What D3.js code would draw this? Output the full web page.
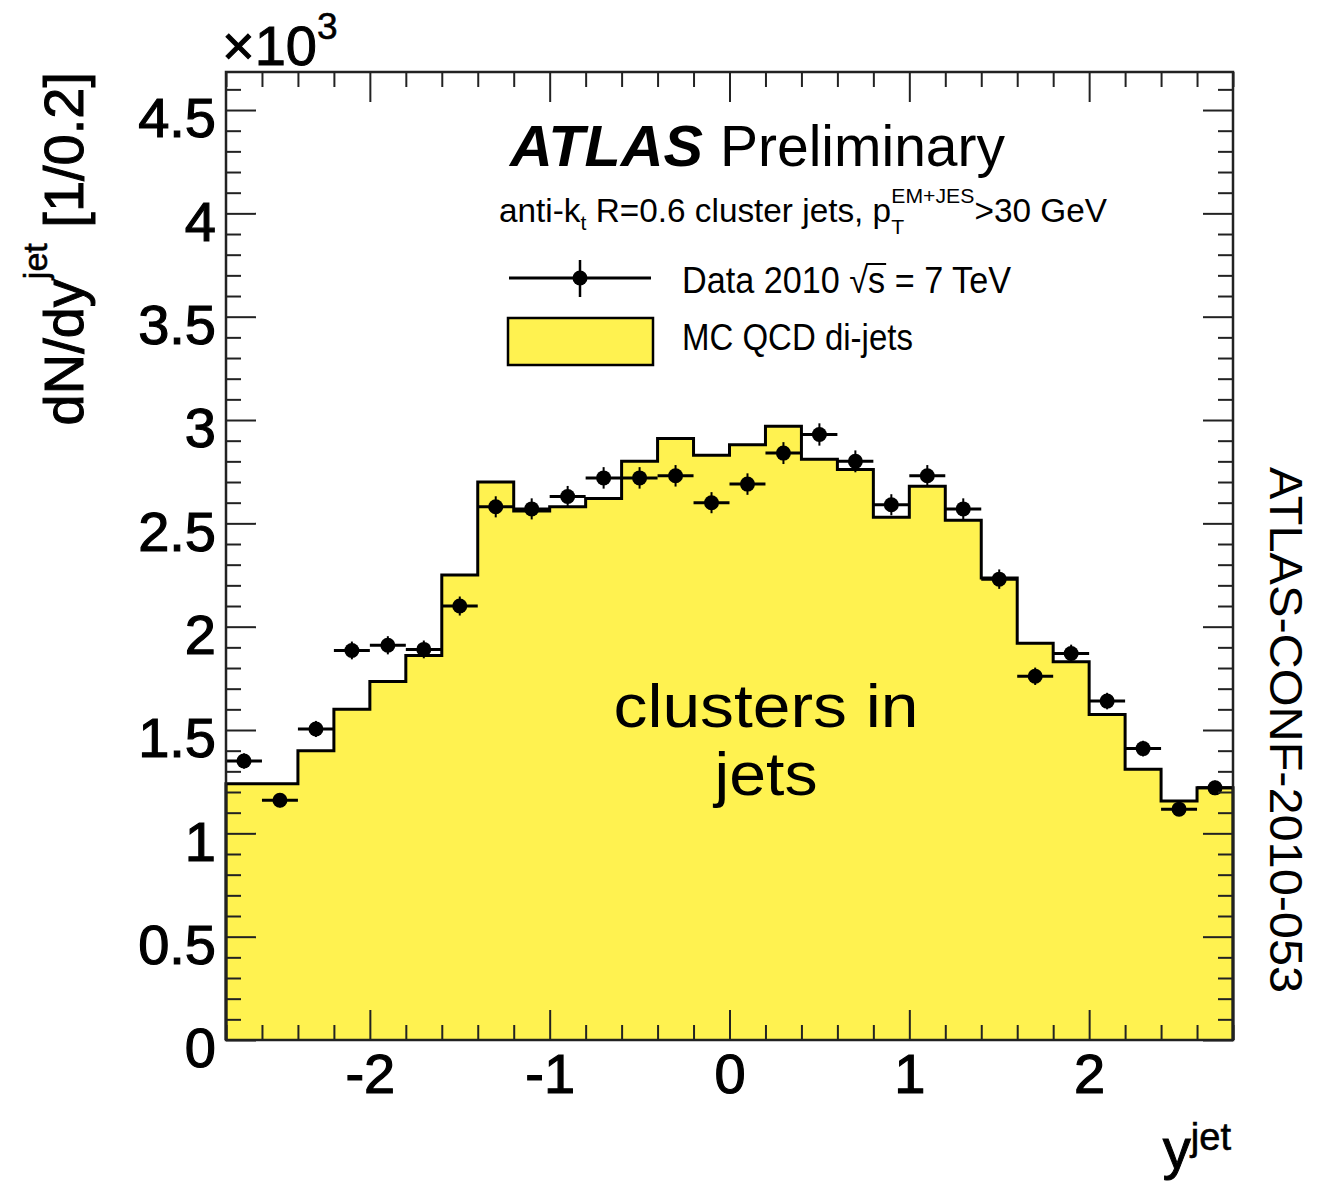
<!DOCTYPE html>
<html><head><meta charset="utf-8">
<script src="https://cdn.jsdelivr.net/npm/d3@7"></script>
<style>html,body{margin:0;padding:0;background:#fff;} svg{display:block;} text{white-space:pre;}</style>
</head><body>
<svg id="c" width="1329" height="1189"></svg>
<script>
// ---------------- data ----------------
const binCenters = [-2.7,-2.5,-2.3,-2.1,-1.9,-1.7,-1.5,-1.3,-1.1,-0.9,-0.7,-0.5,-0.3,-0.1,
                     0.1, 0.3, 0.5, 0.7, 0.9, 1.1, 1.3, 1.5, 1.7, 1.9, 2.1, 2.3, 2.5, 2.7];
const binWidth = 0.2;
const mcValues = [1.24,1.24,1.40,1.60,1.735,1.86,2.25,2.70,2.56,2.58,2.62,2.80,2.91,2.83,
                  2.88,2.97,2.81,2.76,2.53,2.68,2.515,2.235,1.92,1.83,1.575,1.31,1.157,1.22];
const dataValues = [1.35,1.16,1.505,1.885,1.91,1.89,2.10,2.58,2.57,2.63,2.72,2.72,2.73,2.60,
                    2.69,2.84,2.93,2.80,2.59,2.73,2.57,2.23,1.76,1.87,1.64,1.41,1.117,1.22];
const dataErrors = [0.037,0.034,0.039,0.043,0.044,0.043,0.046,0.051,0.051,0.051,0.052,0.052,0.052,0.051,
                    0.052,0.053,0.054,0.053,0.051,0.052,0.051,0.047,0.042,0.043,0.040,0.038,0.033,0.035];
const xTickValues = [-2,-1,0,1,2];
const xTickLabels = ["-2","-1","0","1","2"];
const yTickValues = [0,0.5,1,1.5,2,2.5,3,3.5,4,4.5];
const yTickLabels = ["0","0.5","1","1.5","2","2.5","3","3.5","4","4.5"];

// ---------------- layout ----------------
const FONT = "'Liberation Sans', Arial, Helvetica, sans-serif";
const L = 226, R = 1233, T = 72, B = 1040;
const yellow = "#fff250";
const svg = d3.select("#c").style("font-family", FONT);

const x = d3.scaleLinear().domain([-2.8, 2.8]).range([L, R]);
const y = d3.scaleLinear().domain([0, 4.684]).range([B, T]);

// MC histogram (step)
const pts = [[x(-2.8), y(0)]];
binCenters.forEach((c, i) => {
  pts.push([x(c - binWidth/2), y(mcValues[i])]);
  pts.push([x(c + binWidth/2), y(mcValues[i])]);
});
pts.push([x(2.8), y(0)]);
const line = d3.line();
svg.append("path").attr("d", line(pts) + "Z").attr("fill", yellow).attr("stroke", "none");
svg.append("path").attr("d", line(pts)).attr("fill", "none").attr("stroke", "#000")
   .attr("stroke-width", 3).attr("stroke-linejoin", "miter");

// Data points
const dg = svg.append("g");
binCenters.forEach((c, i) => {
  const v = dataValues[i], e = dataErrors[i];
  dg.append("line").attr("x1", x(c - binWidth/2)).attr("x2", x(c + binWidth/2))
    .attr("y1", y(v)).attr("y2", y(v)).attr("stroke", "#000").attr("stroke-width", 3);
  dg.append("line").attr("x1", x(c)).attr("x2", x(c))
    .attr("y1", y(v - e)).attr("y2", y(v + e)).attr("stroke", "#000").attr("stroke-width", 2);
  dg.append("circle").attr("cx", x(c)).attr("cy", y(v)).attr("r", 7.5).attr("fill", "#000");
});

// Axes with inward ticks
const xMinor = d3.range(-2.8, 2.81, 0.2).map(v => +v.toFixed(2)).filter(v => !xTickValues.includes(Math.round(v*100)/100));
const yMinor = d3.range(0, 4.69, 0.1).map(v => +v.toFixed(2)).filter(v => Math.abs(v*2 - Math.round(v*2)) > 1e-6);
function styleAxis(g) {
  g.select(".domain").remove();
  g.selectAll(".tick line").attr("stroke", "#222").attr("stroke-width", 2);
}
// bottom
svg.append("g").attr("transform", `translate(0,${B})`)
  .call(d3.axisBottom(x).tickValues(xMinor).tickSize(-15).tickFormat("")).call(styleAxis);
const xb = svg.append("g").attr("transform", `translate(0,${B})`)
  .call(d3.axisBottom(x).tickValues(xTickValues).tickSize(-30).tickPadding(13)
        .tickFormat((d, i) => xTickLabels[i])).call(styleAxis);
// top
svg.append("g").attr("transform", `translate(0,${T})`)
  .call(d3.axisTop(x).tickValues(xMinor).tickSize(-15).tickFormat("")).call(styleAxis);
svg.append("g").attr("transform", `translate(0,${T})`)
  .call(d3.axisTop(x).tickValues(xTickValues).tickSize(-30).tickFormat("")).call(styleAxis);
// left
svg.append("g").attr("transform", `translate(${L},0)`)
  .call(d3.axisLeft(y).tickValues(yMinor).tickSize(-15).tickFormat("")).call(styleAxis);
const yl = svg.append("g").attr("transform", `translate(${L},0)`)
  .call(d3.axisLeft(y).tickValues(yTickValues).tickSize(-30).tickPadding(10)
        .tickFormat((d, i) => yTickLabels[i])).call(styleAxis);
// right
svg.append("g").attr("transform", `translate(${R},0)`)
  .call(d3.axisRight(y).tickValues(yMinor).tickSize(-15).tickFormat("")).call(styleAxis);
svg.append("g").attr("transform", `translate(${R},0)`)
  .call(d3.axisRight(y).tickValues(yTickValues).tickSize(-30).tickFormat("")).call(styleAxis);

[xb, yl].forEach(g => g.selectAll(".tick text")
  .attr("font-family", FONT).attr("font-size", 56).attr("fill", "#000")
  .attr("stroke", "#000").attr("stroke-width", 1.2));
yl.selectAll(".tick text").attr("dy", "0.48em");

// frame
svg.append("rect").attr("x", L).attr("y", T).attr("width", R - L).attr("height", B - T)
  .attr("fill", "none").attr("stroke", "#222").attr("stroke-width", 2.5);

// ---------------- rich text helper ----------------
function rich(parent, segs, opts) {
  const g = parent.append("g");
  const inner = g.append("g");
  let cx = 0, pending = 0;
  const placed = [];
  segs.forEach(s => {
    const t = inner.append("text").attr("x", cx).attr("y", -(s.rise || 0))
      .attr("xml:space", "preserve")
      .attr("font-size", s.size).attr("font-weight", s.weight || "normal")
      .attr("font-style", s.style || "normal").attr("fill", "#000").text(s.t);
    if (s.stroke) t.attr("stroke", "#000").attr("stroke-width", s.stroke);
    const w = t.node().getComputedTextLength();
    placed.push({x: cx, w, s});
    if (s.hold) { pending = w; }
    else { cx += Math.max(w, pending); pending = 0; }
  });
  const W = cx;
  const sx = opts.width ? opts.width / W : 1;
  const x0 = opts.anchor === "end" ? -W * sx : (opts.anchor === "middle" ? -W * sx / 2 : 0);
  inner.attr("transform", `translate(${x0},0) scale(${sx},1)`);
  g.attr("transform", opts.transform);
  return {g: inner, placed, W};
}

// y axis title
rich(svg, [
  {t: "dN/dy", size: 56, stroke: 1},
  {t: "jet", size: 34, rise: 36, stroke: 0.6},
  {t: " [1/0.2]", size: 56, stroke: 1}
], {anchor: "end", transform: `translate(83,${T}) rotate(-90)`});

// x10^3
rich(svg, [
  {t: "\u00d710", size: 56, stroke: 1},
  {t: "3", size: 37, rise: 26, stroke: 0.6}
], {anchor: "start", transform: `translate(222,65)`});

// x axis title
rich(svg, [
  {t: "y", size: 56, stroke: 1},
  {t: "jet", size: 38, rise: 18, stroke: 0.6}
], {anchor: "end", transform: `translate(1231,1168)`});

// ATLAS Preliminary
svg.append("text").attr("x", 510).attr("y", 166).attr("font-size", 57).attr("font-weight", "bold")
  .attr("font-style", "italic").attr("textLength", 193).attr("lengthAdjust", "spacingAndGlyphs").text("ATLAS");
svg.append("text").attr("x", 720).attr("y", 166).attr("font-size", 57)
  .attr("textLength", 285).attr("lengthAdjust", "spacingAndGlyphs").text("Preliminary");

// subtitle
rich(svg, [
  {t: "anti-k", size: 33},
  {t: "t", size: 21, rise: -8},
  {t: " R=0.6 cluster jets, p", size: 33},
  {t: "T", size: 21, rise: -12, hold: true},
  {t: "EM+JES", size: 21, rise: 19},
  {t: ">30 GeV", size: 33}
], {anchor: "start", width: 608, transform: `translate(499,222)`});

// legend
const lg = svg.append("g");
lg.append("line").attr("x1", 509).attr("x2", 651).attr("y1", 278).attr("y2", 278)
  .attr("stroke", "#000").attr("stroke-width", 3);
lg.append("line").attr("x1", 580).attr("x2", 580).attr("y1", 260).attr("y2", 297)
  .attr("stroke", "#000").attr("stroke-width", 2.5);
lg.append("circle").attr("cx", 580).attr("cy", 278).attr("r", 7.5).attr("fill", "#000");
const dl = rich(svg, [
  {t: "Data 2010 ", size: 36},
  {t: "\u221a", size: 36},
  {t: "s", size: 36},
  {t: " = 7 TeV", size: 36}
], {anchor: "start", width: 329, transform: `translate(682,293)`});
{
  const sq = dl.placed[1], s = dl.placed[2];
  dl.g.append("line").attr("x1", sq.x + sq.w - 2).attr("x2", s.x + s.w + 1)
    .attr("y1", -29).attr("y2", -29).attr("stroke", "#000").attr("stroke-width", 2);
}
lg.append("rect").attr("x", 508).attr("y", 318).attr("width", 145).attr("height", 47)
  .attr("fill", yellow).attr("stroke", "#000").attr("stroke-width", 2.5);
rich(svg, [{t: "MC QCD di-jets", size: 36}], {anchor: "start", width: 231, transform: `translate(682,350)`});

// annotation (two lines)
svg.append("text").attr("x", 766).attr("y", 727).attr("text-anchor", "middle")
  .attr("font-size", 62).attr("textLength", 305).attr("lengthAdjust", "spacingAndGlyphs").text("clusters in");
svg.append("text").attr("x", 766).attr("y", 795).attr("text-anchor", "middle")
  .attr("font-size", 62).attr("textLength", 103).attr("lengthAdjust", "spacingAndGlyphs").text("jets");

// side label
svg.append("text").attr("transform", "translate(1270,467) rotate(90)")
  .attr("font-size", 47).attr("textLength", 526).attr("lengthAdjust", "spacingAndGlyphs")
  .text("ATLAS-CONF-2010-053");
</script>
</body></html>
